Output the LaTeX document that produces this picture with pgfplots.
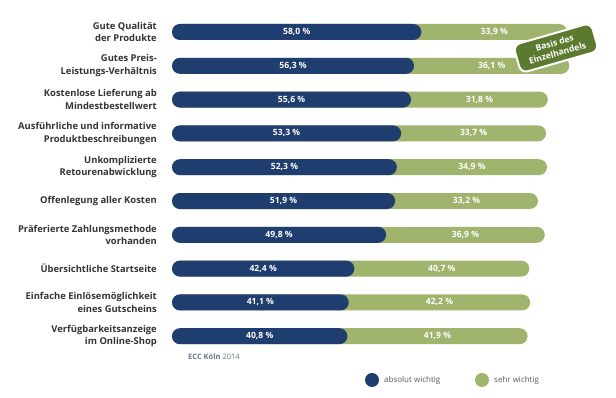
\documentclass[border=0pt]{standalone}
\usepackage{pgfplots}
\pgfplotsset{compat=1.18}
\usepackage{pgfplotstable}
\usepackage{fontspec}
\setmainfont{Open Sans}
\definecolor{eccblue}{HTML}{1F3D6E}
\definecolor{eccgreen}{HTML}{A0B46E}
\definecolor{eccdark}{HTML}{5C7A2F}
\definecolor{labgray}{HTML}{333333}
\definecolor{srcgray}{HTML}{6A7585}

\pgfplotstableread{
y a b
0 58.0 33.9
1 56.3 36.1
2 55.6 31.8
3 53.3 33.7
4 52.3 34.9
5 51.9 33.2
6 49.8 36.9
7 42.4 40.7
8 41.1 42.2
9 40.8 41.9
}\datatable

\begin{document}
\begin{tikzpicture}[x=1pt,y=1pt]
\useasboundingbox (0,0) rectangle (616,398);
\begin{axis}[
  at={(172pt,0pt)}, anchor=south west,
  scale only axis, width=430pt, height=398pt,
  xmin=0, xmax=100, ymin=-0.9467, ymax=10.828, y dir=reverse,
  axis line style={draw=none}, tick style={draw=none},
  xtick=\empty, ytick={0,...,9},
  yticklabels={{Gute Qualität\\der Produkte},{Gutes Preis-\\Leistungs-Verhältnis},{Kostenlose Lieferung ab\\Mindestbestellwert},{Ausführliche und informative\\Produktbeschreibungen},{Unkomplizierte\\Retourenabwicklung},{Offenlegung aller Kosten},{Präferierte Zahlungsmethode\\vorhanden},{Übersichtliche Startseite},{Einfache Einlösemöglichkeit\\eines Gutscheins},{Verfügbarkeitsanzeige\\im Online-Shop}},
  yticklabel style={align=right, font=\fontsize{9.4}{12.5}\selectfont\bfseries, text=labgray, inner sep=0pt, xshift=-15pt},
  clip=false,
]
\addplot[xbar, bar width=16pt, bar shift=0pt, fill=eccgreen, draw=none, rounded corners=8pt]
  table[x expr=\thisrow{a}+\thisrow{b}, y=y] {\datatable};
\addplot[xbar, bar width=16pt, bar shift=0pt, fill=eccblue, draw=none, rounded corners=8pt]
  table[x=a, y=y] {\datatable};
\addplot[draw=none, mark=none, point meta=\thisrow{a}, nodes near coords={\pgfmathprintnumber[fixed,fixed zerofill,precision=1,use comma,assume math mode=true]{\pgfplotspointmeta}\ \%},
  nodes near coords style={anchor=center, text=white, font=\fontsize{8.6}{9}\selectfont\bfseries}]
  table[x expr=\thisrow{a}/2, y=y] {\datatable};
\addplot[draw=none, mark=none, point meta=\thisrow{b}, nodes near coords={\pgfmathprintnumber[fixed,fixed zerofill,precision=1,use comma,assume math mode=true]{\pgfplotspointmeta}\ \%},
  nodes near coords style={anchor=center, text=white, font=\fontsize{8.6}{9}\selectfont\bfseries}]
  table[x expr=\thisrow{a}+\thisrow{b}/2, y=y] {\datatable};
\end{axis}
\node[rotate=16, fill=eccdark, draw=white, line width=2pt, rounded corners=7pt, text=white, font=\fontsize{8.6}{10.5}\selectfont\bfseries, align=center, inner xsep=11pt, inner ysep=6pt] at (556,350) {Basis des\\Einzelhandels};
\node[anchor=west, text=srcgray, font=\fontsize{7.5}{9}\selectfont, inner sep=0pt] at (188,41) {\textbf{ECC Köln} 2014};
\fill[eccblue] (372,18) circle (7);
\node[anchor=west, text=black!65, font=\fontsize{8}{9}\selectfont, inner sep=0pt] at (384,18) {absolut wichtig};
\fill[eccgreen] (482,18) circle (7);
\node[anchor=west, text=black!65, font=\fontsize{8}{9}\selectfont, inner sep=0pt] at (494,18) {sehr wichtig};
\end{tikzpicture}
\end{document}
